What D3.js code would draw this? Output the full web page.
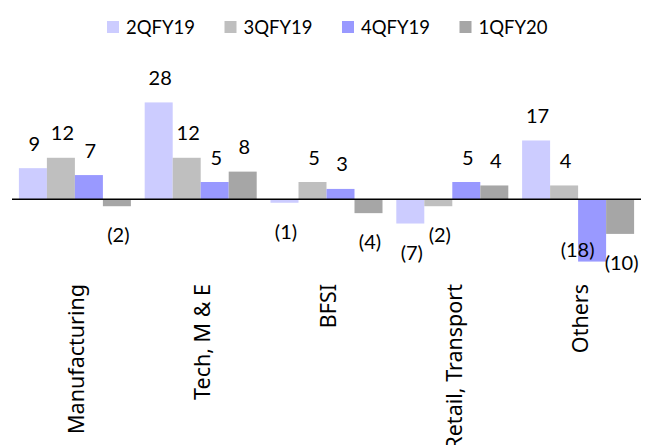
<!DOCTYPE html>
<html>
<head>
<meta charset="utf-8">
<script src="https://cdn.jsdelivr.net/npm/d3@7"></script>
<style>
  html, body { margin: 0; padding: 0; background: #fff; }
  svg { display: block; }
</style>
</head>
<body>
<div id="chart"></div>
<script>
// Sector-wise growth by quarter
const categories = ["Manufacturing", "Tech, M & E", "BFSI", "Retail, Transport", "Others"];
const seriesNames = ["2QFY19", "3QFY19", "4QFY19", "1QFY20"];
const q2FY19 = [9, 28, -1, -7, 17];
const q3FY19 = [12, 12, 5, -2, 4];
const q4FY19 = [7, 5, 3, 5, -18];
const q1FY20 = [-2, 8, -4, 4, -10];
const colors = ["#CCCCFF", "#BFBFBF", "#9999FF", "#A6A6A6"];

const seriesValues = [q2FY19, q3FY19, q4FY19, q1FY20];

const width = 658, height = 445;
const svg = d3.select("#chart").append("svg")
  .attr("width", width).attr("height", height);

const x0 = d3.scaleBand()
  .domain(categories)
  .range([12, 641])
  .paddingInner(0.1097)
  .paddingOuter(0.0548);

const x1 = d3.scaleBand()
  .domain(seriesNames)
  .range([0, x0.bandwidth()])
  .padding(0);

const y = d3.scaleLinear()
  .domain([-20, 30])
  .range([268.5, 95.5]);

const rows = [];
categories.forEach((c, i) => {
  seriesNames.forEach((s, j) => {
    rows.push({ cat: c, series: s, value: seriesValues[j][i], color: colors[j] });
  });
});

const fmt = v => v < 0 ? "(" + Math.abs(v) + ")" : String(v);

// bars
svg.append("g").selectAll("rect")
  .data(rows)
  .join("rect")
  .attr("x", d => x0(d.cat) + x1(d.series))
  .attr("width", x1.bandwidth())
  .attr("y", d => y(Math.max(0, d.value)))
  .attr("height", d => Math.abs(y(d.value) - y(0)))
  .attr("fill", d => d.color);

// zero line
svg.append("line")
  .attr("x1", x0.range()[0]).attr("x2", x0.range()[1])
  .attr("y1", y(0)).attr("y2", y(0))
  .attr("stroke", "#000").attr("stroke-width", 1.5);

// value labels: outside the bar end; a label that would run below the plot sits beside the bar
const labelFloor = 272;
svg.append("g").selectAll("text")
  .data(rows)
  .join("text")
  .attr("font-family", "Lato, 'Open Sans', sans-serif")
  .attr("font-size", 20)
  .attr("fill", "#000")
  .attr("text-anchor", "middle")
  .each(function(d) {
    const cx = x0(d.cat) + x1(d.series) + x1.bandwidth() / 2 + 1.5;
    let ty = d.value >= 0 ? y(d.value) - 17.5 : y(d.value) + 36;
    let tx = cx;
    if (ty > labelFloor) { tx = cx - 16; ty = y(d.value) - 5; }
    d3.select(this).attr("x", tx).attr("y", ty);
  })
  .text(d => fmt(d.value));

// category labels, rotated
svg.append("g").selectAll("text")
  .data(categories)
  .join("text")
  .attr("font-family", "'Noto Sans', 'Open Sans', sans-serif")
  .attr("font-size", 21.5)
  .attr("fill", "#000")
  .attr("text-anchor", "end")
  .attr("dy", "0.35em")
  .attr("transform", d => `translate(${x0(d) + x0.bandwidth() / 2 + 2},284) rotate(-90)`)
  .text(d => d);

// legend
const legend = svg.append("g").attr("font-family", "Lato, 'Open Sans', sans-serif").attr("font-size", 18.5);
const legendX = d3.scalePoint().domain(seriesNames).range([107, 459.5]);
seriesNames.forEach((s, j) => {
  const g = legend.append("g").attr("transform", `translate(${legendX(s)},0)`);
  g.append("rect").attr("x", 0).attr("y", 21).attr("width", 12).attr("height", 12).attr("fill", colors[j]);
  g.append("text").attr("x", 19).attr("y", 33.5).attr("fill", "#000").text(s);
});
</script>
</body>
</html>
